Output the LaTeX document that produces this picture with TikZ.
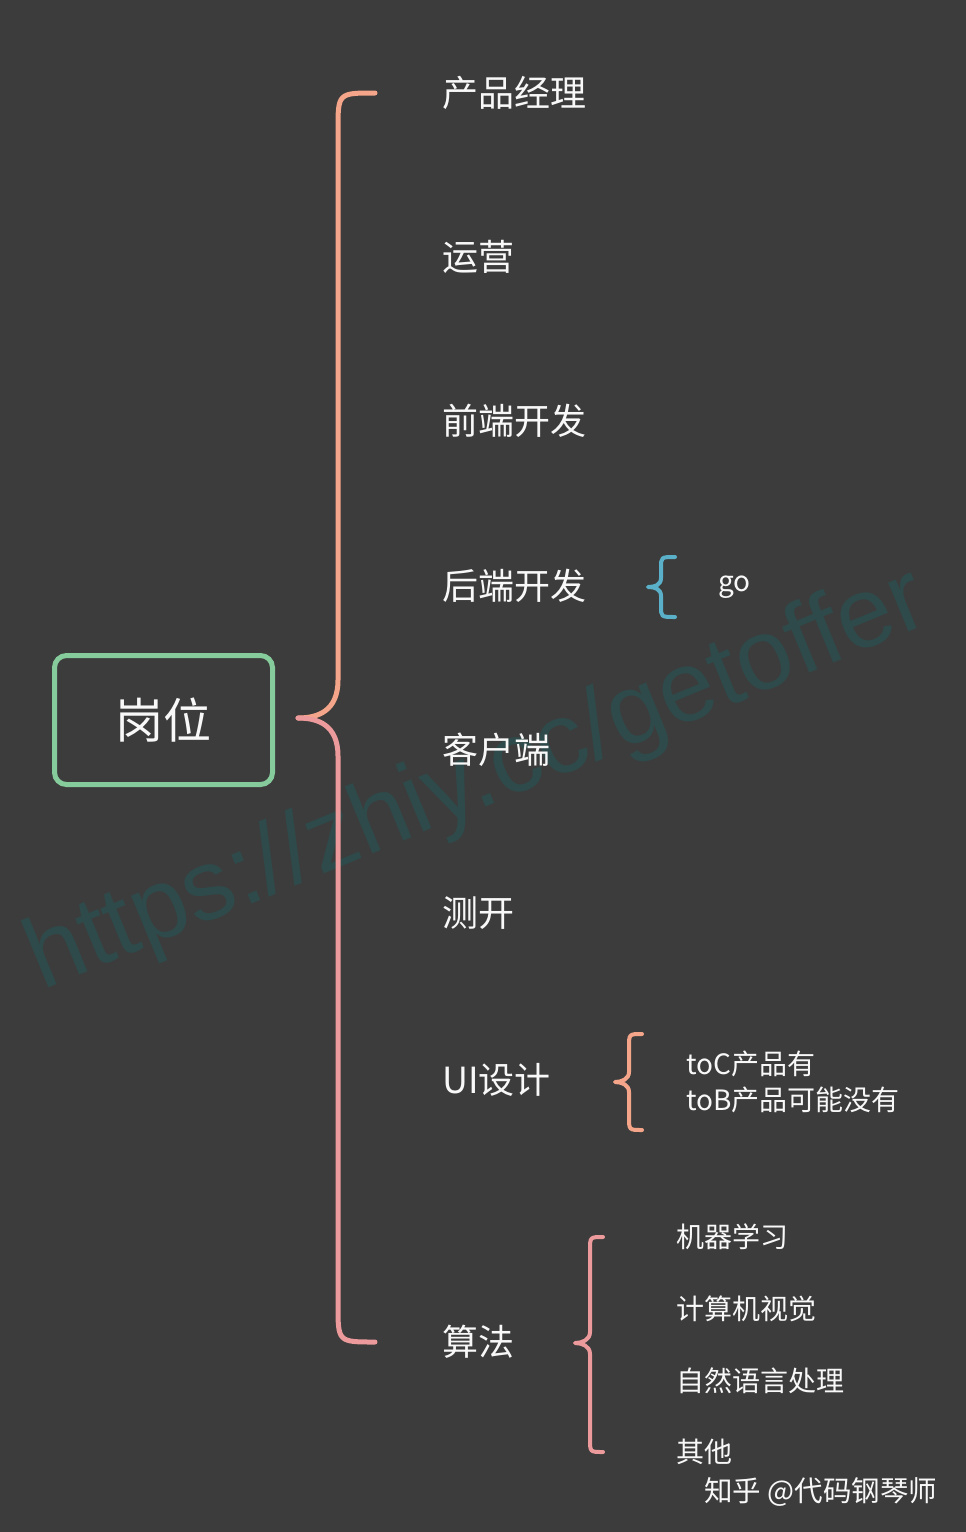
\documentclass[tikz,border=0pt]{standalone}
\usepackage{fontspec}
\setmainfont{Noto Sans CJK SC}
\newfontfamily\wmfont{Liberation Sans}
\usetikzlibrary{positioning}

\definecolor{bgdark}{HTML}{3C3C3C}
\definecolor{rootgreen}{HTML}{86CB9C}
\definecolor{braceorange}{HTML}{F5A58A}
\definecolor{bracepink}{HTML}{EC9A9B}
\definecolor{braceblue}{HTML}{5AB0C8}
\definecolor{watermark}{HTML}{2F4A4A}
\definecolor{textwhite}{HTML}{F8F8F8}

\begin{document}
\begin{tikzpicture}[x=1pt,y=-1pt,
    every node/.style={text=textwhite,inner sep=0pt},
    job/.style={anchor=west,font=\fontsize{36}{40}\selectfont},
    leaf/.style={anchor=west,font=\fontsize{28}{36}\selectfont,align=left},
    bracestroke/.style={line width=5pt,line cap=round,line join=round},
    smallbrace/.style={line width=4pt,line cap=round,line join=round}]
    % Background
    \fill[bgdark] (0,0) rectangle (966,1532);
    \useasboundingbox (0,0) rectangle (966,1532);

    % Watermark
    \node[rotate=22.5,text=watermark,font=\wmfont\fontsize{100}{100}\selectfont] (wm) at (478,782) {https://zhiy.cc/getoffer};

    % Root
    \node[draw=rootgreen,line width=5pt,rounded corners=12pt,
          minimum width=218pt,minimum height=129pt,
          font=\fontsize{48}{52}\selectfont] (root) at (163.5,720) {岗位};

    % Jobs
    \node[job] (pm)   at (442,93)   {产品经理};
    \node[job] (ops)  at (442,257)  {运营};
    \node[job] (fe)   at (442,421)  {前端开发};
    \node[job] (be)   at (442,586)  {后端开发};
    \node[job] (cli)  at (442,750)  {客户端};
    \node[job] (qa)   at (442,913)  {测开};
    \node[job] (ui)   at (442,1080) {UI设计};
    \node[job] (algo) at (442,1342) {算法};

    % Leaves
    \node[leaf] (go)  at (718,587)  {go};
    \node[leaf] (tob) at (686,1082) {toC产品有\\toB产品可能没有};
    \node[leaf] (ml)  at (676,1237) {机器学习};
    \node[leaf] (cv)  at (676,1309) {计算机视觉};
    \node[leaf] (nlp) at (676,1381) {自然语言处理};
    \node[leaf] (etc) at (676,1452) {其他};

    % Big brace root -> jobs
    \coordinate (btip) at (298,718);
    \coordinate (btop) at (375,93);
    \coordinate (bbot) at (375,1342);
    \draw[bracestroke,braceorange] (btop) .. controls (338,93) .. (338,130) -- (338,680)
        .. controls (338,711) and (318,718) .. (btip);
    \draw[bracestroke,bracepink] (btip) .. controls (318,718) and (338,725) .. (338,756)
        -- (338,1305) .. controls (338,1342) .. (bbot);

    % Brace be -> go
    \draw[smallbrace,braceblue] (675,557) .. controls (661,557) .. (661,568) -- (661,578)
        .. controls (661,585) and (655,587) .. (648,587)
        .. controls (655,587) and (661,589) .. (661,596) -- (661,606)
        .. controls (661,617) .. (675,617);

    % Brace ui -> toC/toB
    \draw[smallbrace,braceorange] (642,1034) .. controls (629,1034) .. (629,1047) -- (629,1072)
        .. controls (629,1079) and (622,1082) .. (615,1082)
        .. controls (622,1082) and (629,1085) .. (629,1092) -- (629,1117)
        .. controls (629,1130) .. (642,1130);

    % Brace algo -> leaves
    \draw[smallbrace,bracepink] (603,1237) .. controls (590,1237) .. (590,1250) -- (590,1332)
        .. controls (590,1340) and (582,1343) .. (575,1343)
        .. controls (582,1343) and (590,1346) .. (590,1354) -- (590,1439)
        .. controls (590,1452) .. (603,1452);

    % Credit
    \node[anchor=west,font=\fontsize{28.5}{30}\selectfont] (credit) at (704,1492) {知乎 @代码钢琴师};
\end{tikzpicture}
\end{document}
